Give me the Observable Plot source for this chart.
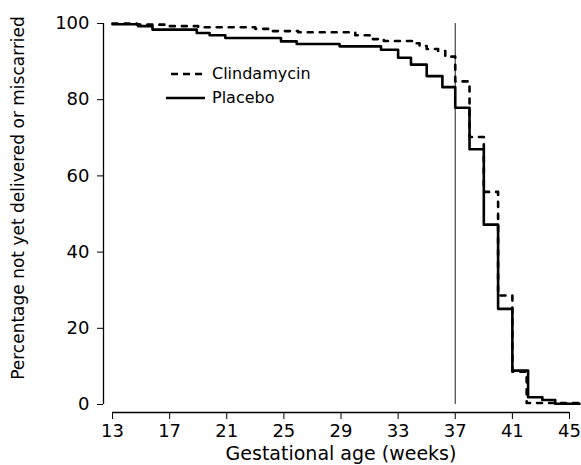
<!DOCTYPE html>
<html><head><meta charset="utf-8">
<script src="https://cdn.jsdelivr.net/npm/d3@7"></script>
<script src="https://cdn.jsdelivr.net/npm/@observablehq/plot@0.6"></script>
<style>
body{margin:0;background:#fff;font-family:"DejaVu Sans",sans-serif;}
#wrap{position:relative;width:581px;height:465px;}
#legend{position:absolute;left:165px;top:62px;font-size:16px;color:#000;line-height:24px;}
#legend div{display:flex;align-items:center;}
#legend svg{margin-right:7px;}
</style>
</head><body>
<div id="wrap"><div id="legend"></div></div>
<script>
// Placebo: step change weeks and survival (%) after each step
const placeboWeeks = [13, 14.8, 15.8, 18.9, 19.8, 20.9, 24.8, 25.9, 28.9, 31.8, 33.0, 33.9, 35.0, 36.1, 37.0, 38.0, 39.0, 40.0, 41.0, 42.1, 43.1, 44.0, 45.7];
const placeboValues = [99.8, 99.3, 98.4, 97.5, 96.9, 96.2, 95.3, 94.6, 94.0, 93.1, 91.0, 89.2, 86.2, 83.3, 77.9, 67.0, 47.2, 25.1, 8.9, 1.9, 1.2, 0.2, 0.2];
const clindaWeeks = [13, 14.7, 17.0, 19.0, 23.0, 24.0, 26.0, 30.0, 31.0, 32.0, 34.0, 34.5, 35.0, 35.8, 36.3, 37.0, 38.0, 39.0, 40.0, 41.0, 42.0, 45.7];
const clindaValues = [100, 99.7, 99.3, 99.0, 98.6, 98.0, 97.7, 96.9, 95.9, 95.4, 94.8, 94.1, 93.3, 92.8, 91.3, 84.8, 70.2, 55.8, 28.6, 8.6, 0.4, 0.4];
const xTicks = [13, 17, 21, 25, 29, 33, 37, 41, 45];
const yTicks = [0, 20, 40, 60, 80, 100];
const termWeek = [37];
const seriesNames = ["Clindamycin", "Placebo"];

const placebo = placeboWeeks.map((w, i) => ({week: w, pct: placeboValues[i], group: "Placebo"}));
const clinda = clindaWeeks.map((w, i) => ({week: w, pct: clindaValues[i], group: "Clindamycin"}));

const font = '"DejaVu Sans", sans-serif';
const chart = Plot.plot({
  width: 581, height: 465,
  marginTop: 23, marginLeft: 112, marginRight: 12, marginBottom: 61,
  style: {fontFamily: font, fontSize: "18px", color: "#000", background: "#fff"},
  x: {domain: [13, 45]},
  y: {domain: [0, 100]},
  marks: [
    Plot.axisY({ticks: yTicks, tickSize: 6, dx: -9, tickPadding: 8, label: null, fontSize: 18}),
    Plot.ruleX([13], {y1: 0, y2: 100, dx: -9, stroke: "#000", strokeWidth: 1.3}),
    Plot.axisX({ticks: xTicks, tickSize: 7, dy: 8, tickPadding: 5, label: null, fontSize: 18}),
    Plot.ruleY([0], {x1: 13, x2: 45, dy: 8, stroke: "#000", strokeWidth: 1.3}),
    Plot.ruleX(termWeek, {y1: 0, y2: 100, stroke: "#444", strokeWidth: 1.2}),
    Plot.line(clinda, {x: "week", y: "pct", curve: "step-after", stroke: "#000", strokeWidth: 2.6, strokeDasharray: "5,7"}),
    Plot.line(placebo, {x: "week", y: "pct", curve: "step-after", stroke: "#000", strokeWidth: 2.6}),
    Plot.text(["Gestational age (weeks)"], {frameAnchor: "bottom", lineAnchor: "middle", dy: 49, fontSize: 19, fill: "#000"}),
    Plot.text(["Percentage not yet delivered or miscarried"], {frameAnchor: "left", textAnchor: "middle", lineAnchor: "middle", dx: -94, dy: -16, rotate: -90, fontSize: 17, fill: "#000"})
  ]
});
document.getElementById("wrap").prepend(chart);

const legend = document.getElementById("legend");
seriesNames.forEach((name) => {
  const row = document.createElement("div");
  const dashed = name === "Clindamycin";
  row.innerHTML = `<svg width="40" height="10"><line x1="${dashed ? 6 : 1}" x2="40" y1="5" y2="5" stroke="#000" stroke-width="2.6" ${dashed ? 'stroke-dasharray="7,5"' : ''}/></svg><span>${name}</span>`;
  legend.appendChild(row);
});
</script>
</body></html>
